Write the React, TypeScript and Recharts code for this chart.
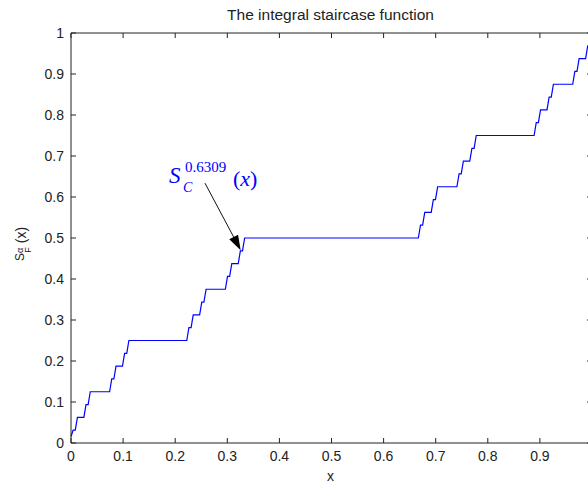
import React from "react";
import {
  LineChart,
  Line,
  XAxis,
  YAxis,
  ReferenceLine,
  ReferenceDot,
  Label,
} from "recharts";

// plateaus of the staircase (x start, x end, level)
const plateauStart = [
  0.0041, 0.0123, 0.0288, 0.037, 0.0782, 0.0864, 0.1029, 0.1111, 0.2263,
  0.2346, 0.251, 0.2593, 0.3004, 0.3086, 0.3251, 0.3333, 0.6708, 0.679,
  0.6955, 0.7037, 0.7449, 0.7531, 0.7695, 0.7778, 0.893, 0.9012, 0.9177,
  0.9259, 0.9671, 0.9753, 0.9918,
];
const plateauEnd = [
  0.0082, 0.0247, 0.0329, 0.0741, 0.0823, 0.0988, 0.107, 0.2222, 0.2305,
  0.2469, 0.2551, 0.2963, 0.3045, 0.321, 0.3292, 0.6667, 0.6749, 0.6914,
  0.6996, 0.7407, 0.749, 0.7654, 0.7737, 0.8889, 0.8971, 0.9136, 0.9218,
  0.963, 0.9712, 0.9877, 0.9959,
];
const plateauLevel = [
  0.03125, 0.0625, 0.09375, 0.125, 0.15625, 0.1875, 0.21875, 0.25, 0.28125,
  0.3125, 0.34375, 0.375, 0.40625, 0.4375, 0.46875, 0.5, 0.53125, 0.5625,
  0.59375, 0.625, 0.65625, 0.6875, 0.71875, 0.75, 0.78125, 0.8125, 0.84375,
  0.875, 0.90625, 0.9375, 0.96875,
];
const firstPoint = { x: 0, y: 0.016 };
const lastPoint = { x: 1, y: 1 };

// the "1" label at the right end is cropped out of the picture
const xTicks = [0, 0.1, 0.2, 0.3, 0.4, 0.5, 0.6, 0.7, 0.8, 0.9];
const yTicks = [0, 0.1, 0.2, 0.3, 0.4, 0.5, 0.6, 0.7, 0.8, 0.9, 1];

const arrowFrom = { x: 0.2572, y: 0.6337 };
const arrowTo = { x: 0.3257, y: 0.4702 };
const noteAt = { x: 0.1862, y: 0.635 };

const data: { x: number; y: number }[] = [firstPoint];
plateauStart.forEach((s, i) => {
  data.push({ x: s, y: plateauLevel[i] });
  data.push({ x: plateauEnd[i], y: plateauLevel[i] });
});
data.push(lastPoint);

const SANS = "'Liberation Sans', Arial, Helvetica, sans-serif";
const SERIF = "'Liberation Serif', 'Times New Roman', serif";
const AXIS = "#222";

const CHART_W = 640;
const CHART_H = 485;
const MARGIN = { top: 32, right: 47, bottom: 12, left: 11 };
const PLOT_TOP = MARGIN.top + 1;
const PLOT_RIGHT = CHART_W - MARGIN.right - 1;
const TICK = 5;

// bottom labels, plus the matching inward tick on the top side of the box
function BottomTick(props: any) {
  const { x, y, payload } = props;
  return (
    <g>
      <text
        x={x}
        y={y}
        dy="0.71em"
        textAnchor="middle"
        fontSize={14}
        fontFamily={SANS}
        fill={AXIS}
      >
        {String(payload.value)}
      </text>
      <line x1={x} x2={x} y1={PLOT_TOP} y2={PLOT_TOP + TICK} stroke={AXIS} />
    </g>
  );
}

// left labels, plus the matching inward tick on the right side of the box
function LeftTick(props: any) {
  const { x, y, payload } = props;
  return (
    <g>
      <text
        x={x}
        y={y}
        dy="0.355em"
        textAnchor="end"
        fontSize={14}
        fontFamily={SANS}
        fill={AXIS}
      >
        {String(payload.value)}
      </text>
      <line
        x1={PLOT_RIGHT - TICK}
        x2={PLOT_RIGHT}
        y1={y}
        y2={y}
        stroke={AXIS}
      />
    </g>
  );
}

function ArrowShape(props: any) {
  const { x1, y1, x2, y2 } = props;
  const a = Math.atan2(y2 - y1, x2 - x1);
  const len = 15;
  const half = 5;
  const bx = x2 - len * Math.cos(a);
  const by = y2 - len * Math.sin(a);
  const p1 = `${bx + half * Math.sin(a)},${by - half * Math.cos(a)}`;
  const p2 = `${bx - half * Math.sin(a)},${by + half * Math.cos(a)}`;
  return (
    <g>
      <line x1={x1} y1={y1} x2={bx} y2={by} stroke="#111" strokeWidth={1} />
      <polygon points={`${x2},${y2} ${p1} ${p2}`} fill="#000" />
    </g>
  );
}

function NoteLabel(props: any) {
  const { x, y } = props.viewBox;
  return (
    <g fill="#0000ff" fontFamily={SERIF}>
      <text x={x + 1} y={y} fontSize={23} fontStyle="italic">
        S
      </text>
      <text x={x + 15} y={y + 9} fontSize={14} fontStyle="italic">
        C
      </text>
      <text x={x + 17} y={y - 11} fontSize={15}>
        0.6309
      </text>
      <text x={x + 65} y={y + 3} fontSize={22}>
        (<tspan fontStyle="italic">x</tspan>)
      </text>
    </g>
  );
}

function TitleLabel(props: any) {
  const { x, y, width } = props.viewBox;
  return (
    <text
      x={x + width / 2 - 1}
      y={y - 12}
      textAnchor="middle"
      fontSize={15.5}
      fontFamily={SANS}
      fill={AXIS}
    >
      The integral staircase function
    </text>
  );
}

function XLabel(props: any) {
  const { x, y, width } = props.viewBox;
  return (
    <text
      x={x + width / 2 - 1}
      y={y + 38}
      textAnchor="middle"
      fontSize={14}
      fontFamily={SANS}
      fill={AXIS}
    >
      x
    </text>
  );
}

function YLabel(props: any) {
  const { x, y, height } = props.viewBox;
  const cx = x + 15;
  const cy = y + height / 2 + 23;
  return (
    <text
      x={cx}
      y={cy}
      transform={`rotate(-90, ${cx}, ${cy})`}
      textAnchor="start"
      fontFamily={SANS}
      fill={AXIS}
    >
      <tspan fontSize={12} dy={-2}>
        S
      </tspan>
      <tspan fontSize={9} dy={-1}>
        α
      </tspan>
      <tspan fontSize={9} dx={-5} dy={8}>
        F
      </tspan>
      <tspan fontSize={14} dx={4} dy={-5}>
        (x)
      </tspan>
    </text>
  );
}

export default function App() {
  return (
    <div
      style={{
        position: "absolute",
        left: 0,
        top: 0,
        width: 588,
        height: CHART_H,
        overflow: "hidden",
        background: "#fff",
      }}
    >
      <LineChart width={CHART_W} height={CHART_H} data={data} margin={MARGIN}>
        <XAxis
          xAxisId={0}
          dataKey="x"
          type="number"
          domain={[0, 1]}
          ticks={xTicks}
          interval={0}
          height={30}
          tickSize={-TICK}
          tickMargin={13}
          tick={BottomTick}
          axisLine={{ stroke: AXIS }}
          tickLine={{ stroke: AXIS }}
        >
          <Label content={XLabel} />
        </XAxis>
        <XAxis
          xAxisId="top"
          orientation="top"
          type="number"
          dataKey="x"
          domain={[0, 1]}
          height={1}
          tick={false}
          tickLine={false}
          axisLine={{ stroke: AXIS }}
        >
          <Label content={TitleLabel} />
        </XAxis>
        <YAxis
          yAxisId={0}
          type="number"
          domain={[0, 1]}
          ticks={yTicks}
          interval={0}
          width={60}
          tickSize={-TICK}
          tickMargin={12}
          tick={LeftTick}
          axisLine={{ stroke: AXIS }}
          tickLine={{ stroke: AXIS }}
        >
          <Label content={YLabel} />
        </YAxis>
        <YAxis
          yAxisId="right"
          orientation="right"
          type="number"
          dataKey="y"
          domain={[0, 1]}
          width={1}
          tick={false}
          tickLine={false}
          axisLine={{ stroke: AXIS }}
        />
        <Line
          type="linear"
          dataKey="y"
          stroke="#0000ff"
          strokeWidth={1.2}
          dot={false}
          activeDot={false}
          isAnimationActive={false}
        />
        <ReferenceLine
          segment={[arrowFrom, arrowTo]}
          shape={ArrowShape}
          ifOverflow="visible"
        />
        <ReferenceDot
          x={noteAt.x}
          y={noteAt.y}
          r={0}
          fill="none"
          stroke="none"
          ifOverflow="visible"
          label={NoteLabel}
        />
      </LineChart>
    </div>
  );
}
